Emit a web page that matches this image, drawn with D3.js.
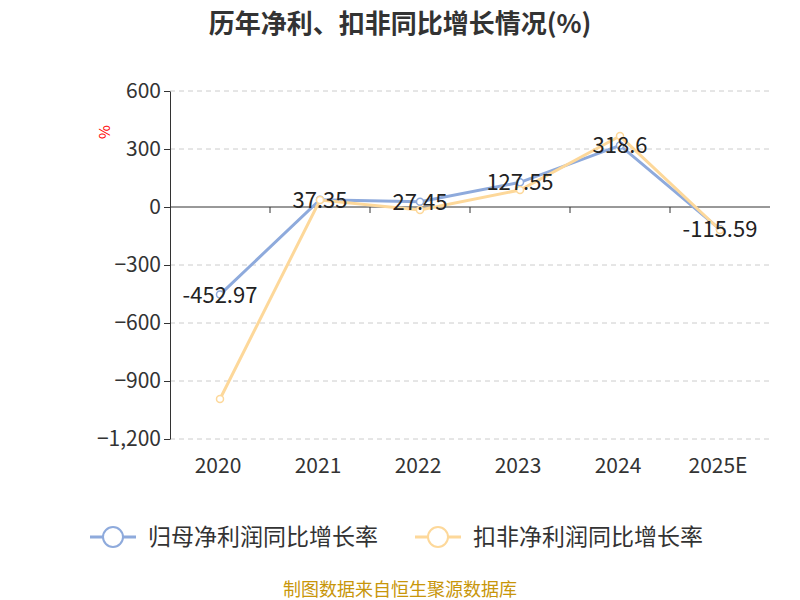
<!DOCTYPE html>
<html><head><meta charset="utf-8">
<script src="https://cdn.jsdelivr.net/npm/d3@7/dist/d3.min.js"></script>
<style>body{margin:0;background:#fff}</style></head>
<body><svg id="c" width="800" height="600"></svg>
<script>
const categories=["2020","2021","2022","2023","2024","2025E"];
const netProfit=[-452.97,37.35,27.45,127.55,318.6,-115.59];
const deducted=[-993,36,-15,88,367,-119];
const yTicks=[600,300,0,-300,-600,-900,-1200];
const labels=["-452.97","37.35","27.45","127.55","318.6","-115.59"];
const seriesNames=["归母净利润同比增长率","扣非净利润同比增长率"];
const colors=["#8eaadc","#fdd89a"];
const font="'Noto Sans CJK SC','Noto Sans',sans-serif";
const svg=d3.select("#c");
const x=d3.scaleBand().domain(categories).range([170,770]);
const y=d3.scaleLinear().domain([-1200,600]).range([439,91]);
svg.append("text").attr("x",400).attr("y",33).attr("text-anchor","middle").attr("font-family",font).attr("font-size",26).attr("font-weight","bold").attr("fill","#333").text("历年净利、扣非同比增长情况(%)");
svg.append("g").selectAll("line").data(yTicks.filter(d=>d!==0)).join("line").attr("x1",170).attr("x2",770).attr("y1",d=>y(d)).attr("y2",d=>y(d)).attr("stroke","#ccc").attr("stroke-dasharray","5,4");
const ya=svg.append("g").attr("transform","translate(170,0)").call(d3.axisLeft(y).tickValues(yTicks).tickFormat(d3.format(",")).tickSize(6).tickSizeOuter(0));
ya.selectAll("text").attr("font-family",font).attr("font-size",21).attr("fill","#333");
ya.select(".domain").attr("stroke","#333");ya.selectAll(".tick line").attr("stroke","#333");
svg.append("line").attr("x1",170).attr("x2",770).attr("y1",y(0)).attr("y2",y(0)).attr("stroke","#333");
svg.append("g").selectAll("line").data(categories.slice(1)).join("line").attr("x1",d=>x(d)).attr("x2",d=>x(d)).attr("y1",y(0)).attr("y2",y(0)+6).attr("stroke","#333");
svg.append("g").selectAll("text").data(categories).join("text").attr("x",d=>x(d)+x.bandwidth()/2-2).attr("y",473).attr("text-anchor","middle").attr("font-family",font).attr("font-size",21).attr("fill","#333").text(d=>d);
svg.append("text").attr("transform","translate(110,132) rotate(-90)").attr("text-anchor","middle").attr("font-size",15).attr("fill","red").attr("font-family",font).text("%");
const line=d3.line().x((d,i)=>x(categories[i])+x.bandwidth()/2).y(d=>y(d));
[netProfit,deducted].forEach((s,k)=>{
 svg.append("path").datum(s).attr("d",line).attr("fill","none").attr("stroke",colors[k]).attr("stroke-width",3);
});
[netProfit,deducted].forEach((s,k)=>{
 svg.append("g").selectAll("circle").data(s).join("circle").attr("cx",(d,i)=>x(categories[i])+x.bandwidth()/2).attr("cy",d=>y(d)).attr("r",3.5).attr("fill","#fff").attr("stroke",colors[k]).attr("stroke-width",1.5);
});
svg.append("g").selectAll("text").data(netProfit).join("text").attr("x",(d,i)=>x(categories[i])+x.bandwidth()/2).attr("y",d=>y(d)-2).attr("dominant-baseline","central").attr("text-anchor","middle").attr("font-family",font).attr("font-size",22).attr("fill","#222").text((d,i)=>labels[i]);
seriesNames.forEach((n,k)=>{
 const lx=[90,415][k];
 svg.append("line").attr("x1",lx).attr("x2",lx+46).attr("y1",537).attr("y2",537).attr("stroke",colors[k]).attr("stroke-width",3);
 svg.append("circle").attr("cx",lx+23).attr("cy",537).attr("r",10).attr("fill","#fff").attr("stroke",colors[k]).attr("stroke-width",2);
 svg.append("text").attr("x",lx+58).attr("y",545).attr("font-family",font).attr("font-size",23).attr("fill","#333").text(n);
});
svg.append("text").attr("x",400).attr("y",596).attr("text-anchor","middle").attr("font-family",font).attr("font-size",18).attr("fill","#c8960a").text("制图数据来自恒生聚源数据库");
</script></body></html>
